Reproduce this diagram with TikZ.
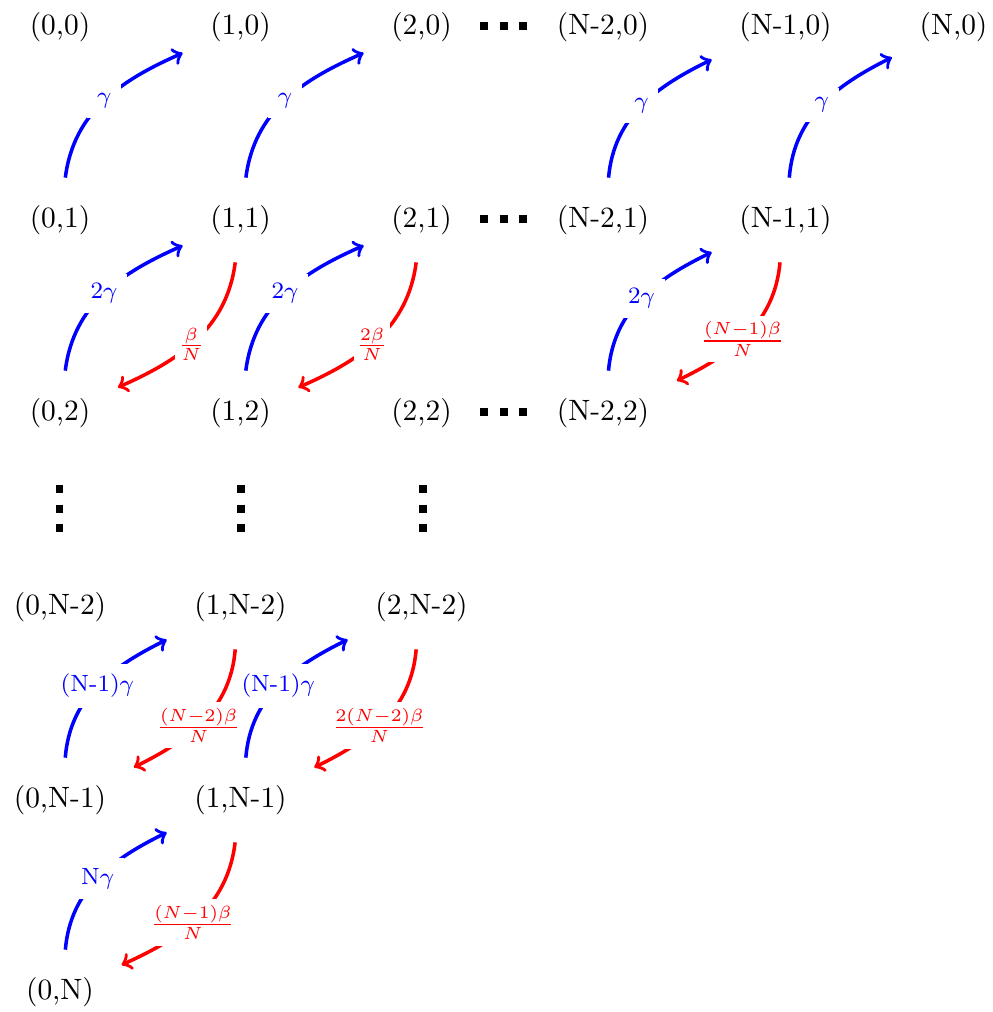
\documentclass[tikz,border=0pt]{standalone}
\begin{document}
\begin{tikzpicture}[x=0.34pt,y=-0.34pt,
  st/.style={inner sep=9.2pt, font=\normalsize},
  rec/.style={blue, very thick, ->},
  inf/.style={red, very thick, ->},
  bl/.style={midway, fill=white, text=blue, font=\footnotesize},
  rl/.style={pos=0.54, fill=white, text=red, font=\footnotesize, inner xsep=1pt, inner ysep=2pt},
  bnd/.style={out=36, in=157, relative},
  dts/.style={line width=2.7pt, loosely dotted}]
\useasboundingbox (0,0) rectangle (992,1012);
% row 0
\node[st] (a00) at (60,27.5) {(0,0)};
\node[st] (a10) at (240.5,27.5) {(1,0)};
\node[st] (a20) at (421.5,27.5) {(2,0)};
\node[st] (aN20) at (603,27.5) {(N-2,0)};
\node[st] (aN10) at (785.5,27.5) {(N-1,0)};
\node[st] (aN0) at (953.5,27.5) {(N,0)};
% row 1
\node[st] (a01) at (60,220) {(0,1)};
\node[st] (a11) at (240.5,220) {(1,1)};
\node[st] (a21) at (421.5,220) {(2,1)};
\node[st] (aN21) at (603,220) {(N-2,1)};
\node[st] (aN11) at (785.5,220) {(N-1,1)};
% row 2
\node[st] (a02) at (60,413) {(0,2)};
\node[st] (a12) at (240.5,413) {(1,2)};
\node[st] (a22) at (421.5,413) {(2,2)};
\node[st] (aN22) at (603,413) {(N-2,2)};
% lower rows
\node[st] (b0) at (60,607) {(0,N-2)};
\node[st] (b1) at (240.5,607) {(1,N-2)};
\node[st] (b2) at (421.5,607) {(2,N-2)};
\node[st] (c0) at (60,800) {(0,N-1)};
\node[st] (c1) at (240.5,800) {(1,N-1)};
\node[st] (d0) at (60,992) {(0,N)};
% dots
\coordinate (h0a) at (480,26); \coordinate (h0b) at (527,26);
\coordinate (h1a) at (480,219); \coordinate (h1b) at (527,219);
\coordinate (h2a) at (480,412); \coordinate (h2b) at (527,412);
\coordinate (v0a) at (59.5,485); \coordinate (v0b) at (59.5,532);
\coordinate (v1a) at (241,485); \coordinate (v1b) at (241,532);
\coordinate (v2a) at (423,485); \coordinate (v2b) at (423,532);
\draw[dts] (h0a) -- (h0b);
\draw[dts] (h1a) -- (h1b);
\draw[dts] (h2a) -- (h2b);
\draw[dts] (v0a) -- (v0b);
\draw[dts] (v1a) -- (v1b);
\draw[dts] (v2a) -- (v2b);
% recovery (blue)
\draw[rec] (a01) to[bnd] node[bl] {$\gamma$} (a10);
\draw[rec] (a11) to[bnd] node[bl] {$\gamma$} (a20);
\draw[rec] (aN21) to[bnd] node[bl] {$\gamma$} (aN10);
\draw[rec] (aN11) to[bnd] node[bl] {$\gamma$} (aN0);
\draw[rec] (a02) to[bnd] node[bl] {$2\gamma$} (a11);
\draw[rec] (a12) to[bnd] node[bl] {$2\gamma$} (a21);
\draw[rec] (aN22) to[bnd] node[bl] {$2\gamma$} (aN11);
\draw[rec] (c0) to[bnd] node[bl] {(N-1)$\gamma$} (b1);
\draw[rec] (c1) to[bnd] node[bl] {(N-1)$\gamma$} (b2);
\draw[rec] (d0) to[bnd] node[bl] {N$\gamma$} (c1);
% infection (red)
\draw[inf] (a11) to[bnd] node[rl] {$\frac{\beta}{N}$} (a02);
\draw[inf] (a21) to[bnd] node[rl] {$\frac{2\beta}{N}$} (a12);
\draw[inf] (aN11) to[bnd] node[rl] {$\frac{(N-1)\beta}{N}$} (aN22);
\draw[inf] (b1) to[bnd] node[rl] {$\frac{(N-2)\beta}{N}$} (c0);
\draw[inf] (b2) to[bnd] node[rl] {$\frac{2(N-2)\beta}{N}$} (c1);
\draw[inf] (c1) to[bnd] node[rl] {$\frac{(N-1)\beta}{N}$} (d0);
\end{tikzpicture}
\end{document}
